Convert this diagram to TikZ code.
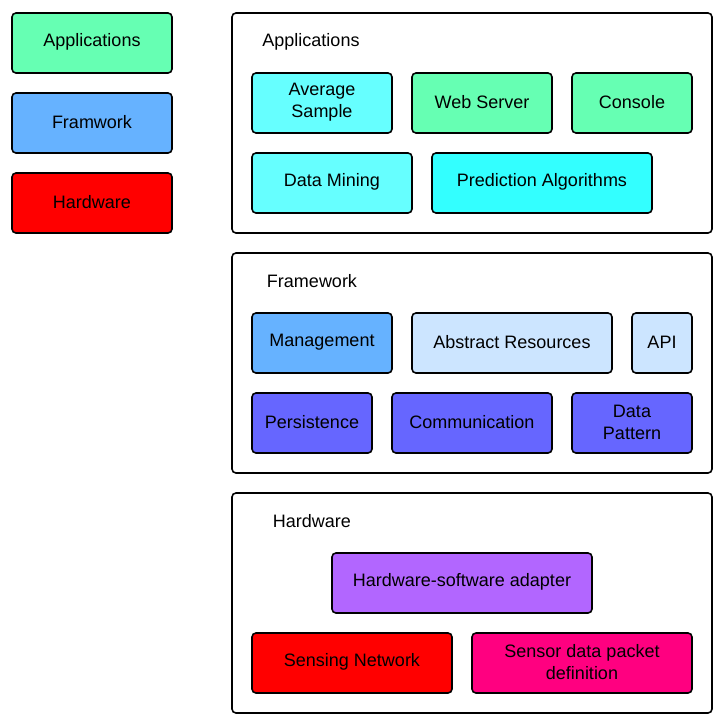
\documentclass[tikz,border=0pt]{standalone}
\usepackage{fontspec}
\setmainfont{Liberation Sans}
\begin{document}
\begin{tikzpicture}[x=1pt,y=-1pt,
  box/.style={draw=black,line width=1.6pt,rounded corners=4pt,inner sep=0pt},
  lbl/.style={font=\fontsize{18}{22}\selectfont,align=center,inner sep=0pt,yshift=1pt},
  ttl/.style={font=\fontsize{18}{22}\selectfont}]
\definecolor{appg}{HTML}{66FFB3}
\definecolor{fwb}{HTML}{66B2FF}
\definecolor{hwr}{HTML}{FF0000}
\definecolor{cyl}{HTML}{66FFFF}
\definecolor{cyd}{HTML}{33FFFF}
\definecolor{lb}{HTML}{CCE5FF}
\definecolor{vio}{HTML}{6666FF}
\definecolor{pur}{HTML}{B266FF}
\definecolor{pink}{HTML}{FF0080}
\useasboundingbox (0,0) rectangle (726,724);
\newcommand{\bx}[7]{\node[box,fill=#6,minimum width=#3pt-#1pt,minimum height=#4pt-#2pt] (#7) at ({(#1+#3)/2},{(#2+#4)/2}) {};
  \node[lbl] (#7-t) at (#7.center) {#5};}
% legend
\bx{12}{13}{172}{73}{Applications}{appg}{lapp}
\bx{12}{93}{172}{153}{Framwork}{fwb}{lfw}
\bx{12}{173}{172}{233}{Hardware}{hwr}{lhw}
% containers
\bx{232}{13}{712}{233}{}{white}{capp}
\bx{232}{253}{712}{473}{}{white}{cfw}
\bx{232}{493}{712}{713}{}{white}{chw}
\node[ttl] (tapp) at (311,41.5) {Applications};
\node[ttl] (tfw) at (312,281.5) {Framework};
\node[ttl] (thw) at (312,521.5) {Hardware};
% applications
\bx{252}{73}{392}{133}{Average\\Sample}{cyl}{avg}
\bx{412}{73}{552}{133}{Web Server}{appg}{web}
\bx{572}{73}{692}{133}{Console}{appg}{con}
\bx{252}{153}{412}{213}{Data Mining}{cyl}{dm}
\bx{432}{153}{652}{213}{Prediction Algorithms}{cyd}{pa}
% framework
\bx{252}{313}{392}{373}{Management}{fwb}{mg}
\bx{412}{313}{612}{373}{Abstract Resources}{lb}{ar}
\bx{632}{313}{692}{373}{API}{lb}{api}
\bx{252}{393}{372}{453}{Persistence}{vio}{per}
\bx{392}{393}{552}{453}{Communication}{vio}{com}
\bx{572}{393}{692}{453}{Data\\Pattern}{vio}{dp}
% hardware
\bx{332}{553}{592}{613}{Hardware-software adapter}{pur}{hsa}
\bx{252}{633}{452}{693}{Sensing Network}{hwr}{sn}
\bx{472}{633}{692}{693}{Sensor data packet\\definition}{pink}{sdp}
\end{tikzpicture}
\end{document}
